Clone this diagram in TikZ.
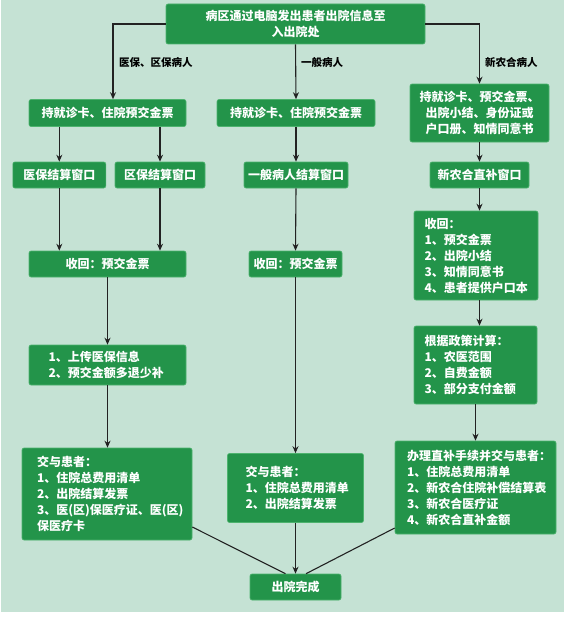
\documentclass[tikz,border=0pt]{standalone}
\usepackage{fontspec}
\newfontfamily\cjk{Noto Sans CJK SC}
\usetikzlibrary{arrows.meta}
\definecolor{bgc}{HTML}{C5E2D4}
\definecolor{boxg}{HTML}{23944A}
\definecolor{boxedge}{HTML}{4DB36E}
\definecolor{inkc}{HTML}{222222}
\tikzset{
 box/.style={fill=boxg, draw=boxedge, line width=0.6pt, rounded corners=2pt, text=white,
   font=\cjk\bfseries\fontsize{12}{16}\selectfont, inner sep=0pt, align=center},
 lbox/.style={box, align=left},
 arr/.style={-{Stealth[length=7pt,width=6pt]}, line width=1.1pt, draw=inkc},
 ln/.style={line width=1.1pt, draw=inkc},
 lab/.style={font=\cjk\bfseries\fontsize{10.5}{12}\selectfont, text=black, anchor=west, inner sep=0pt}
}
\begin{document}
\begin{tikzpicture}[x=1pt,y=-1pt]
\useasboundingbox (0,0) rectangle (565,618);
\fill[white] (0,0) rectangle (565,618);
\fill[bgc] (1,0) rectangle (564,612);

\node[box, minimum width=259, minimum height=40] (top) at (295.5,24) {病区通过电脑发出患者出院信息至\\入出院处};

\node[lab] (labA) at (119,62) {医保、区保病人};
\node[lab] (labB) at (301,62) {一般病人};
\node[lab] (labC) at (485,62) {新农合病人};

\node[box, minimum width=157, minimum height=27] (L1) at (107.5,113) {持就诊卡、住院预交金票};
\node[box, minimum width=158, minimum height=27] (M1) at (296,113) {持就诊卡、住院预交金票};
\node[box, minimum width=139, minimum height=58] (R1) at (479.5,113) {持就诊卡、预交金票、\\出院小结、身份证或\\户口册、知情同意书};

\node[box, minimum width=93, minimum height=26] (L2a) at (59.3,175) {医保结算窗口};
\node[box, minimum width=90, minimum height=26] (L2b) at (160,175) {区保结算窗口};
\node[box, minimum width=104, minimum height=26] (M2) at (296,175) {一般病人结算窗口};
\node[box, minimum width=99, minimum height=26] (R2) at (479.5,175) {新农合直补窗口};

\node[box, minimum width=157, minimum height=26] (L3) at (107.5,264) {收回：预交金票};
\node[box, minimum width=93, minimum height=26] (M3) at (295.5,264) {收回：预交金票};
\node[lbox, minimum height=89, text width=103, inner xsep=10.5] (R3) at (476,255.5)
  {收回：\\1、预交金票\\2、出院小结\\3、知情同意书\\4、患者提供户口本};

\node[lbox, minimum height=40, text width=118, inner xsep=19.5] (L4) at (107.5,365)
  {1、上传医保信息\\2、预交金额多退少补};
\node[lbox, minimum height=78, text width=102, inner xsep=10.5] (R4) at (475.5,365)
  {根据政策计算：\\1、农医范围\\2、自费金额\\3、部分支付金额};

\node[lbox, minimum height=92, text width=140, inner xsep=15] (L5) at (107,494)
  {交与患者：\\1、住院总费用清单\\2、出院结算发票\\3、医(区)保医疗证、医(区)\\保医疗卡};
\node[lbox, minimum height=69, text width=100, inner xsep=18] (M4) at (295.5,488)
  {交与患者：\\1、住院总费用清单\\2、出院结算发票};
\node[lbox, minimum height=93, text width=137, inner xsep=12] (R5) at (475.5,487.5)
  {办理直补手续并交与患者：\\1、住院总费用清单\\2、新农合住院补偿结算表\\3、新农合医疗证\\4、新农合直补金额};

\node[box, minimum width=91, minimum height=26] (Fin) at (295.5,587) {出院完成};

\draw[arr] (top.west) -| ([xshift=5.5]L1.north);
\draw[arr] (top.south) -- (M1.north);
\draw[arr] (top.east) -| (R1.north);

\draw[arr] (L1.south -| L2a) -- (L2a.north);
\draw[arr] (L1.south -| L2b) -- (L2b.north);
\draw[arr] (M1.south) -- (M2.north);
\draw[arr] (R1.south) -- (R2.north);

\draw[arr] (L2a.south) -- (L3.north -| L2a);
\draw[arr] (L2b.south) -- (L3.north -| L2b);
\draw[arr] (M2.south) -- (M3.north);
\draw[arr] (R2.south) -- (R3.north -| R2);

\draw[arr] (L3.south) -- (L4.north);
\draw[arr] (M3.south) -- (M4.north);
\draw[arr] (R3.south -| R2) -- (R4.north -| R2);

\draw[arr] (L4.south) -- (L5.north -| L4);
\draw[arr] (R4.south) -- (R5.north -| R4);

\draw[ln] ([yshift=-33]L5.east) -- ([xshift=-10]Fin.north);
\draw[ln] ([yshift=-40.5]R5.west) -- ([xshift=10.5]Fin.north);
\draw[arr] (M4.south) -- (Fin.north);
\end{tikzpicture}
\end{document}
